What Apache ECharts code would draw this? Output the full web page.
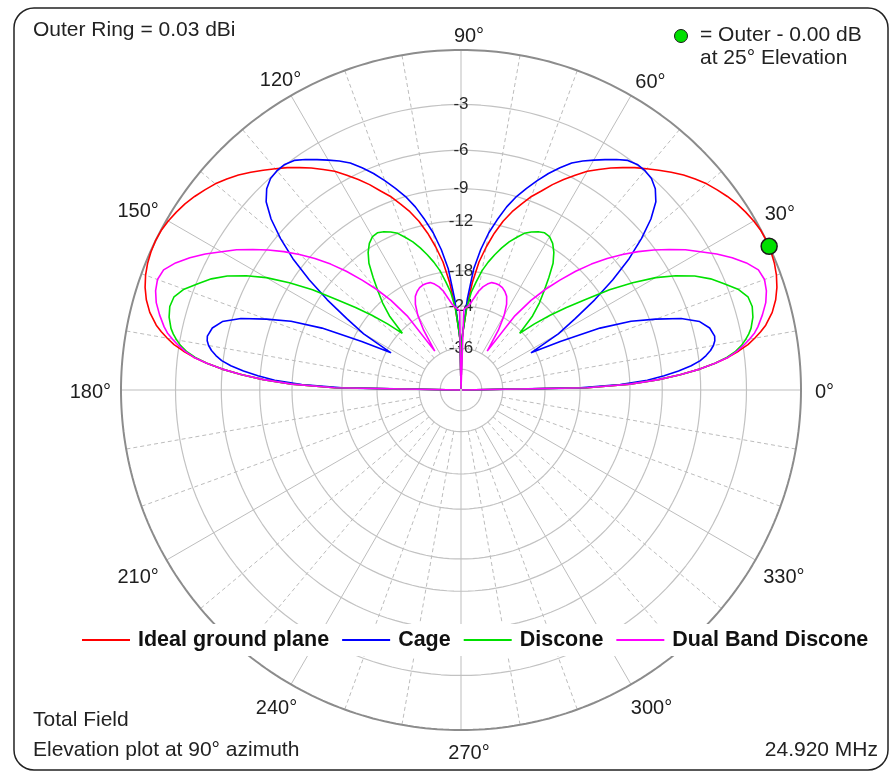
<!DOCTYPE html>
<html>
<head>
<meta charset="utf-8">
<script src="https://cdn.jsdelivr.net/npm/echarts@6/dist/echarts.min.js"></script>
<style>
  html, body { margin: 0; padding: 0; background: #fff; }
  #chart { width: 895px; height: 777px; }
</style>
</head>
<body>
<div id="chart"></div>
<script>
// ---------------- DATA (elevation angle in degrees, gain in dB relative to outer ring) ----------------
const elevation = [0,1,2,3,4,5,6,7,8,9,10,11,12,14,16,18,20,22,24,26,28,30,32,34,36,38,40,42,44,46,48,50,52,54,56,58,60,62,64,66,68,70,72,74,76,78,80,82,84,86,88,89,90,
  91,92,94,96,98,100,102,104,106,108,110,112,114,116,118,120,122,124,126,128,130,132,134,136,138,140,142,144,146,148,150,152,154,156,158,160,162,164,166,168,169,170,171,172,173,174,175,176,177,178,179,180];

const idealGroundPlane = [-99,-17,-12,-9.3,-7.5,-6.0,-4.9,-4.0,-3.3,-2.7,-2.25,-1.85,-1.5,-1.0,-0.65,-0.4,-0.22,-0.1,-0.03,0,-0.02,-0.1,-0.22,-0.36,-0.55,-0.77,-1.0,-1.3,-1.62,-2.0,-2.4,-2.8,-3.2,-3.65,-4.1,-4.6,-5.1,-5.75,-6.4,-7.1,-7.9,-8.6,-9.5,-10.4,-11.5,-12.9,-14.6,-16.6,-19.7,-24.2,-30,-33,-99,
  -33,-30,-24.2,-19.7,-16.6,-14.6,-12.9,-11.5,-10.4,-9.5,-8.6,-7.9,-7.1,-6.4,-5.75,-5.1,-4.6,-4.1,-3.65,-3.2,-2.8,-2.4,-2.0,-1.62,-1.3,-1.0,-0.77,-0.55,-0.36,-0.22,-0.1,-0.02,0,-0.03,-0.1,-0.22,-0.4,-0.65,-1.0,-1.5,-1.85,-2.25,-2.7,-3.3,-4.0,-4.9,-6.0,-7.5,-9.3,-12,-17,-99];

const cage = [-99,-18,-13,-10.3,-8.8,-7.6,-6.6,-5.9,-5.45,-5.1,-4.85,-4.7,-4.65,-4.85,-5.4,-6.6,-8.5,-10.6,-13.8,-19.3,-25,-19,-15.9,-12.8,-10.2,-8.0,-6.3,-4.9,-3.9,-3.35,-3.05,-2.95,-2.95,-3.1,-3.45,-3.85,-4.25,-4.65,-5.1,-5.75,-6.45,-7.25,-8.1,-9.0,-10.1,-11.5,-13.0,-15.0,-17.6,-22.5,-30,-33,-99,
  -33,-30,-22.5,-17.6,-15.0,-13.0,-11.5,-10.1,-9.0,-8.1,-7.25,-6.45,-5.75,-5.1,-4.65,-4.25,-3.85,-3.45,-3.1,-2.95,-2.95,-3.05,-3.35,-3.9,-4.9,-6.3,-8.0,-10.2,-12.8,-15.9,-19,-25,-19.3,-13.8,-10.6,-8.5,-6.6,-5.4,-4.85,-4.65,-4.7,-4.85,-5.1,-5.45,-5.9,-6.6,-7.6,-8.8,-10.3,-13,-18,-99];

const discone = [-99,-17,-12,-9.3,-7.5,-6.0,-4.9,-4.1,-3.5,-3.1,-2.8,-2.55,-2.35,-2.1,-1.98,-2.05,-2.45,-3.1,-3.75,-4.6,-5.75,-7.1,-8.9,-11.0,-13.6,-16.0,-18.4,-21.2,-24.5,-20.5,-18.3,-16.6,-14.9,-13.3,-12.3,-11.6,-11.2,-11.1,-11.3,-11.6,-12.0,-12.7,-13.4,-14.3,-15.3,-16.4,-17.7,-19.5,-21.3,-24.3,-30,-33,-99,
  -33,-30,-24.3,-21.3,-19.5,-17.7,-16.4,-15.3,-14.3,-13.4,-12.7,-12.0,-11.6,-11.3,-11.1,-11.2,-11.6,-12.3,-13.3,-14.9,-16.6,-18.3,-20.5,-24.5,-21.2,-18.4,-16.0,-13.6,-11.0,-8.9,-7.1,-5.75,-4.6,-3.75,-3.1,-2.45,-2.05,-1.98,-2.1,-2.35,-2.55,-2.8,-3.1,-3.5,-4.1,-4.9,-6.0,-7.5,-9.3,-12,-17,-99];

const dualBandDiscone = [-99,-17,-12,-9.3,-7.5,-6.0,-4.9,-4.0,-3.4,-2.95,-2.55,-2.2,-1.95,-1.55,-1.2,-0.98,-0.88,-1.0,-1.45,-2.05,-2.75,-3.55,-4.3,-5.2,-6.1,-7.1,-8.2,-9.4,-10.8,-12.4,-14.3,-16.3,-18.8,-22.5,-34,-27,-23.5,-21.5,-20.3,-19.7,-19.3,-19.1,-19.05,-19.1,-19.5,-20.1,-21.0,-22.3,-23.5,-24.2,-24.7,-25,-99,
  -25,-24.7,-24.2,-23.5,-22.3,-21.0,-20.1,-19.5,-19.1,-19.05,-19.1,-19.3,-19.7,-20.3,-21.5,-23.5,-27,-34,-22.5,-18.8,-16.3,-14.3,-12.4,-10.8,-9.4,-8.2,-7.1,-6.1,-5.2,-4.3,-3.55,-2.75,-2.05,-1.45,-1.0,-0.88,-0.98,-1.2,-1.55,-1.95,-2.2,-2.55,-2.95,-3.4,-4.0,-4.9,-6.0,-7.5,-9.3,-12,-17,-99];

const seriesNames = ['Ideal ground plane', 'Cage', 'Discone', 'Dual Band Discone'];
const seriesColors = ['#ff0000', '#0000ff', '#00e000', '#ff00ff'];
const seriesValues = [idealGroundPlane, cage, discone, dualBandDiscone];

const ringLabelsDb = [-3, -6, -9, -12, -18, -24, -36];
const ringsDb = [-3, -6, -9, -12, -18, -24, -36, -48];
const angleTicks = [0, 30, 60, 90, 120, 150, 180, 210, 240, 270, 300, 330];
const maxElevation = 25;   // green marker: outer-ring maximum
const maxGainDb = 0;

// ---------------- ARRL log radial scale: each 2 dB -> 0.89x radius ----------------
function arrl(db) { return Math.pow(0.89, -db / 2); }

const FONT = '"Liberation Sans", Arial, sans-serif';
const OUTER_PX = 340;          // pixel radius of the 0 dB ring
const RADIUS_MAX = 1.12;       // radius axis extends past outer ring for the angle labels
const ANGLE_FONT = 20;

const chart = echarts.init(document.getElementById('chart'), null, { renderer: 'canvas' });
const measureCtx = document.createElement('canvas').getContext('2d');
measureCtx.font = ANGLE_FONT + 'px ' + FONT;

// label nudges (layout only)
function angleLabelOffset(a) {
  let dx = 2, dy = 2;
  if (a > 0 && a < 180) dy += 5;
  if (a === 60 || a === 90 || a === 270 || a === 300) dx += 6;
  if (a === 150 || a === 210 || a === 240) dx -= 4;
  return [dx, dy];
}

const series = [];

// rings
ringsDb.forEach(function (db) {
  const pts = [];
  for (let a = 0; a <= 360; a += 2) pts.push([arrl(db), a]);
  series.push({
    type: 'line', coordinateSystem: 'polar', data: pts, symbol: 'none', silent: true,
    lineStyle: { color: '#c2c2c2', width: 1.2 }, z: 1, animation: false
  });
});

// outer ring (0 dB)
(function () {
  const pts = [];
  for (let a = 0; a <= 360; a += 1) pts.push([arrl(0), a]);
  series.push({
    type: 'line', coordinateSystem: 'polar', data: pts, symbol: 'none', silent: true,
    lineStyle: { color: '#8c8c8c', width: 2 }, z: 2, animation: false
  });
})();

// spokes
for (let a = 0; a < 360; a += 10) {
  const start = (a % 90 === 0) ? 0 : arrl(-36);
  const solid = a % 30 === 0;
  series.push({
    type: 'line', coordinateSystem: 'polar', data: [[start, a], [1, a]], symbol: 'none', silent: true,
    lineStyle: { color: solid ? '#bdbdbd' : '#bcbcbc', width: 1, type: solid ? 'solid' : [4, 3] },
    z: 1, animation: false
  });
}

// ring labels along the 90 deg axis
series.push({
  type: 'scatter', coordinateSystem: 'polar', silent: true, symbolSize: 1,
  itemStyle: { color: 'transparent', opacity: 1 },
  data: ringLabelsDb.map(function (d) { return [arrl(d), 90, d]; }),
  label: {
    show: true, position: 'inside', formatter: function (p) { return String(p.value[2]); },
    fontSize: 17, color: '#2a2a2a', opacity: 1, fontFamily: FONT
  },
  z: 3, animation: false
});

// angle labels around the outer ring (centre placed just outside the ring, by text extent)
series.push({
  type: 'scatter', coordinateSystem: 'polar', silent: true, symbolSize: 1,
  itemStyle: { color: 'transparent', opacity: 1 },
  data: angleTicks.map(function (a) {
    const txt = a + '°';
    const hw = measureCtx.measureText(txt).width / 2, hh = 9;
    const rad = a * Math.PI / 180;
    const ext = Math.sqrt(Math.pow(hw * Math.cos(rad), 2) + Math.pow(hh * Math.sin(rad), 2));
    return { value: [(OUTER_PX + 12 + ext) / OUTER_PX, a, txt], label: { offset: angleLabelOffset(a) } };
  }),
  label: {
    show: true, position: 'inside', formatter: function (p) { return p.value[2]; },
    fontSize: ANGLE_FONT, color: '#1e1e1e', opacity: 1, fontFamily: FONT
  },
  z: 3, animation: false
});

// data series
seriesNames.forEach(function (name, i) {
  series.push({
    name: name, type: 'line', coordinateSystem: 'polar', symbol: 'none', smooth: false,
    data: elevation.map(function (a, k) { return [arrl(seriesValues[i][k]), a]; }),
    lineStyle: { color: seriesColors[i], width: 1.6 },
    itemStyle: { color: seriesColors[i] },
    z: 5 + i, animation: false
  });
});

// max marker
series.push({
  type: 'scatter', coordinateSystem: 'polar', silent: true,
  data: [[arrl(maxGainDb), maxElevation]], symbolSize: 16,
  itemStyle: { color: '#00e000', borderColor: '#1a1a1a', borderWidth: 1.5, opacity: 1 },
  z: 20, animation: false
});

const option = {
  backgroundColor: '#fff',
  animation: false,
  polar: { center: [461, 390], radius: OUTER_PX * RADIUS_MAX },
  angleAxis: {
    type: 'value', min: 0, max: 360, interval: 30, startAngle: 0, clockwise: false,
    axisLine: { show: false }, axisTick: { show: false }, splitLine: { show: false }, axisLabel: { show: false }
  },
  radiusAxis: {
    type: 'value', min: 0, max: RADIUS_MAX,
    axisLine: { show: false }, axisTick: { show: false }, axisLabel: { show: false }, splitLine: { show: false }
  },
  legend: {
    data: seriesNames, left: 78, top: 624, icon: 'rect', itemWidth: 48, itemHeight: 2, itemGap: 13,
    backgroundColor: '#fff', padding: [5, 4],
    textStyle: { fontSize: 21.5, fontWeight: 'bold', color: '#111', fontFamily: FONT, padding: [0, 0, 0, 3] },
    selectedMode: false
  },
  graphic: [
    { type: 'rect', shape: { x: 14, y: 8, width: 874, height: 762, r: 20 },
      style: { fill: 'none', stroke: '#222', lineWidth: 1.5 }, z: 100 },
    { type: 'text', left: 33, top: 20, style: { text: 'Outer Ring = 0.03 dBi', font: '21px ' + FONT, fill: '#222' }, z: 100 },
    { type: 'circle', shape: { cx: 681, cy: 36, r: 6.5 }, style: { fill: '#00e000', stroke: '#1a1a1a', lineWidth: 1 }, z: 100 },
    { type: 'text', left: 700, top: 25, style: { text: '= Outer - 0.00 dB', font: '21px ' + FONT, fill: '#222' }, z: 100 },
    { type: 'text', left: 700, top: 48, style: { text: 'at 25° Elevation', font: '21px ' + FONT, fill: '#222' }, z: 100 },
    { type: 'text', left: 33, top: 710, style: { text: 'Total Field', font: '21px ' + FONT, fill: '#222' }, z: 100 },
    { type: 'text', left: 33, top: 740, style: { text: 'Elevation plot at 90° azimuth', font: '21px ' + FONT, fill: '#222' }, z: 100 },
    { type: 'text', right: 17, top: 740, style: { text: '24.920 MHz', font: '21px ' + FONT, fill: '#222' }, z: 100 }
  ],
  series: series
};
chart.setOption(option);
</script>
</body>
</html>
